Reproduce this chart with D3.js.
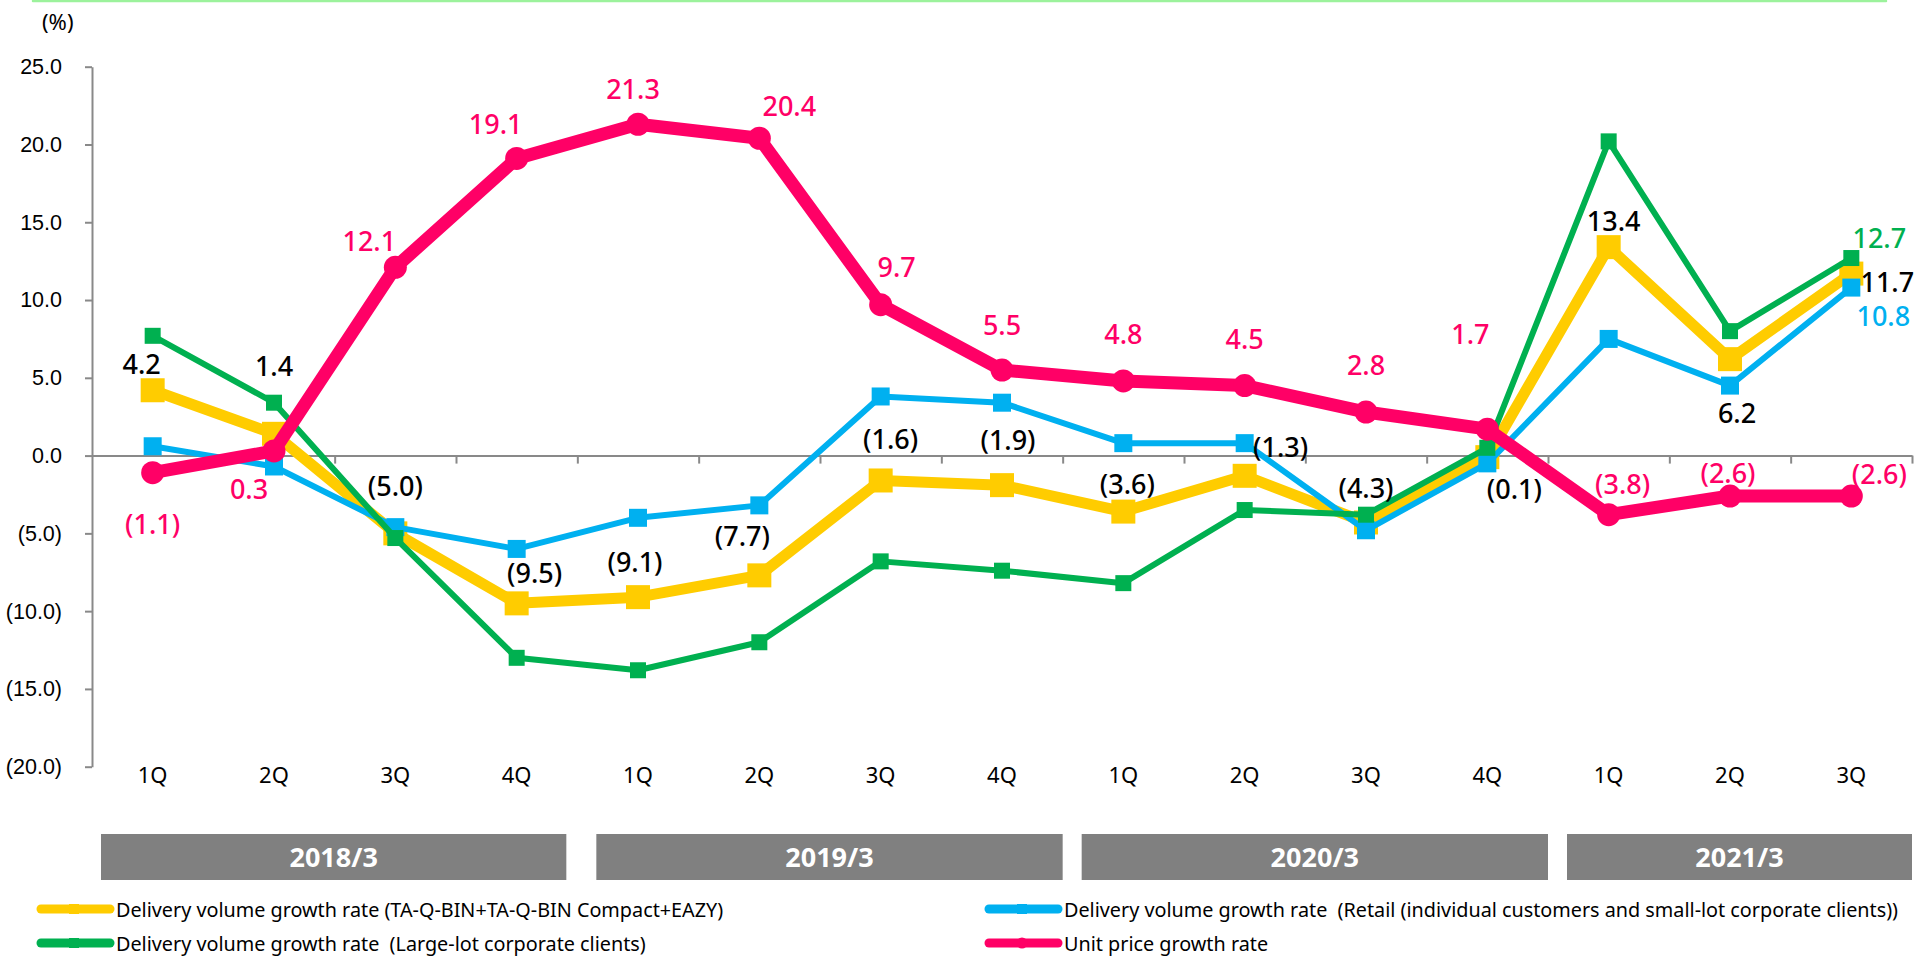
<!DOCTYPE html>
<html>
<head>
<meta charset="utf-8">
<script src="https://cdn.jsdelivr.net/npm/d3@7"></script>
<style>
  body { margin: 0; background: #fff; }
  svg { display: block; font-family: "Noto Sans", "Open Sans", sans-serif; }
  .legend text { white-space: pre; }
</style>
</head>
<body>
<div id="app"></div>
<script>
// quarters and fiscal years
const quarters = ["1Q", "2Q", "3Q", "4Q", "1Q", "2Q", "3Q", "4Q", "1Q", "2Q", "3Q", "4Q", "1Q", "2Q", "3Q"];
const fiscalYears = ["2018/3", "2019/3", "2020/3", "2021/3"];
const yearQuarterCount = [4, 4, 4, 3];
const yTicks = [25, 20, 15, 10, 5, 0, -5, -10, -15, -20];

// growth rates (%)
const totalVolume = [4.2, 1.4, -5.0, -9.5, -9.1, -7.7, -1.6, -1.9, -3.6, -1.3, -4.3, -0.1, 13.4, 6.2, 11.7];
const retailVolume = [0.6, -0.7, -4.6, -6.0, -4.0, -3.2, 3.8, 3.4, 0.8, 0.8, -4.8, -0.5, 7.5, 4.5, 10.8];
const largeLotVolume = [7.7, 3.4, -5.3, -13.0, -13.8, -12.0, -6.8, -7.4, -8.2, -3.5, -3.8, 0.5, 20.2, 8.0, 12.7];
const unitPrice = [-1.1, 0.3, 12.1, 19.1, 21.3, 20.4, 9.7, 5.5, 4.8, 4.5, 2.8, 1.7, -3.8, -2.6, -2.6];

const legendNames = [
  "Delivery volume growth rate (TA-Q-BIN+TA-Q-BIN Compact+EAZY)",
  "Delivery volume growth rate  (Retail (individual customers and small-lot corporate clients))",
  "Delivery volume growth rate  (Large-lot corporate clients)",
  "Unit price growth rate"
];

// label offsets from the point (layout only)
const totalLabelOffsets = [[-11, -27], [0, -68], [0, -48], [18, -31], [-3, -36], [-17, -40], [10, -42], [6, -46],
  [4, -28], [36, -29], [0, -35], [27, 31], [5, -27], [7, 53], [36, 8]];
const priceLabelOffsets = [[0, 51], [-25, 38], [-26, -27], [-21, -35], [-5, -36], [30, -33], [16, -38], [0, -46],
  [0, -47], [0, -47], [0, -48], [-17, -96], [14, -31], [-2, -24], [28, -23]];

const width = 1917, height = 958;
const plot = { left: 92, right: 1912, top: 66.7, bottom: 766.7 };

const fmt = (v) => (v < 0 ? `(${Math.abs(v).toFixed(1)})` : v.toFixed(1));

const xScale = d3.scaleBand().domain(d3.range(quarters.length)).range([plot.left, plot.right]);
const xEdge = d3.scaleLinear().domain([0, quarters.length]).range([plot.left, plot.right]);
const yScale = d3.scaleLinear().domain([-20, 25]).range([plot.bottom, plot.top]);
const cx = (i) => xScale(i) + xScale.bandwidth() / 2;

const svg = d3.select("#app").append("svg").attr("width", width).attr("height", height);

// thin green rule at the very top
svg.append("line")
  .attr("x1", 33).attr("x2", 1886).attr("y1", 1).attr("y2", 1)
  .attr("stroke", "#9cf29c").attr("stroke-width", 2.5).attr("stroke-linecap", "round");

svg.append("text").attr("x", 42).attr("y", 30).attr("font-size", 22).attr("fill", "#000").text("(%)");

// y axis
svg.append("g")
  .attr("transform", `translate(${plot.left},0)`)
  .call(d3.axisLeft(yScale).tickValues(yTicks).tickFormat(fmt).tickSize(7).tickPadding(23).tickSizeOuter(0))
  .call((g) => g.selectAll("line, path").attr("stroke", "#898989").attr("stroke-width", 2))
  .call((g) => g.selectAll("text").attr("font-size", 21.5).attr("fill", "#000").attr("font-family", null));

// zero line with ticks between quarters
svg.append("g")
  .attr("transform", `translate(0,${yScale(0)})`)
  .call(d3.axisBottom(xEdge).tickValues(d3.range(1, quarters.length + 1)).tickFormat("").tickSize(8).tickSizeOuter(0))
  .call((g) => g.selectAll("line, path").attr("stroke", "#898989").attr("stroke-width", 2));

// quarter labels
svg.append("g").selectAll("text").data(quarters).join("text")
  .attr("x", (d, i) => cx(i)).attr("y", 783)
  .attr("text-anchor", "middle").attr("font-size", 22).attr("fill", "#000")
  .text((d) => d);

// fiscal year boxes
let start = 0;
const yearBoxes = fiscalYears.map((name, k) => {
  const b = { name, from: start, to: start + yearQuarterCount[k] };
  start = b.to;
  return b;
});
const yearG = svg.append("g").selectAll("g").data(yearBoxes).join("g");
yearG.append("rect")
  .attr("x", (d, k) => xEdge(d.from) + (k === 0 ? 9 : 19))
  .attr("width", (d, k) => xEdge(d.to) - xEdge(d.from) - (k === 0 ? 20 : 19))
  .attr("y", 834).attr("height", 46)
  .attr("fill", "#808080");
yearG.append("text")
  .attr("x", (d, k) => (xEdge(d.from) + (k === 0 ? 9 : 19) + xEdge(d.to) - (k === 0 ? 11 : 0)) / 2)
  .attr("y", 867).attr("text-anchor", "middle")
  .attr("font-size", 27).attr("font-weight", "bold").attr("fill", "#fff")
  .text((d) => d.name);

// series
const series = [
  { values: totalVolume, color: "#FFCC00", width: 11, marker: "square", size: 24 },
  { values: retailVolume, color: "#00B0F0", width: 6, marker: "square", size: 18 },
  { values: largeLotVolume, color: "#00B050", width: 6, marker: "square", size: 16 },
  { values: unitPrice, color: "#FF0066", width: 13, marker: "circle", size: 23 }
];

const line = d3.line().x((d, i) => cx(i)).y((d) => yScale(d));

series.forEach((s) => {
  const g = svg.append("g");
  g.append("path").datum(s.values)
    .attr("d", line).attr("fill", "none")
    .attr("stroke", s.color).attr("stroke-width", s.width).attr("stroke-linejoin", "round");
  if (s.marker === "square") {
    g.selectAll("rect").data(s.values).join("rect")
      .attr("x", (d, i) => cx(i) - s.size / 2).attr("y", (d) => yScale(d) - s.size / 2)
      .attr("width", s.size).attr("height", s.size).attr("fill", s.color);
  } else {
    g.selectAll("circle").data(s.values).join("circle")
      .attr("cx", (d, i) => cx(i)).attr("cy", (d) => yScale(d))
      .attr("r", s.size / 2).attr("fill", s.color);
  }
});

// data labels
const labelG = svg.append("g").attr("font-size", 27).attr("font-weight", 500)
  .attr("text-anchor", "middle").attr("dominant-baseline", "central");
labelG.selectAll("text.total").data(totalVolume).join("text")
  .attr("class", "total")
  .attr("x", (d, i) => cx(i) + totalLabelOffsets[i][0])
  .attr("y", (d, i) => yScale(d) + totalLabelOffsets[i][1])
  .attr("fill", "#000").text(fmt);
labelG.selectAll("text.price").data(unitPrice).join("text")
  .attr("class", "price")
  .attr("x", (d, i) => cx(i) + priceLabelOffsets[i][0])
  .attr("y", (d, i) => yScale(d) + priceLabelOffsets[i][1])
  .attr("fill", "#FF0066").text(fmt);
const last = quarters.length - 1;
labelG.append("text")
  .attr("x", cx(last) + 28).attr("y", yScale(largeLotVolume[last]) - 21)
  .attr("fill", "#00B050").text(fmt(largeLotVolume[last]));
labelG.append("text")
  .attr("x", cx(last) + 32).attr("y", yScale(retailVolume[last]) + 28)
  .attr("fill", "#00B0F0").text(fmt(retailVolume[last]));

// legend
const legendPos = [[37, 909], [985, 909], [37, 943], [985, 943]];
const legendSeries = [series[0], series[1], series[2], series[3]];
const leg = svg.append("g").attr("class", "legend").selectAll("g").data(legendNames).join("g")
  .attr("transform", (d, i) => `translate(${legendPos[i][0]},${legendPos[i][1]})`);
leg.append("line")
  .attr("x1", 4).attr("x2", 73).attr("y1", 0).attr("y2", 0)
  .attr("stroke", (d, i) => legendSeries[i].color).attr("stroke-width", 9).attr("stroke-linecap", "round");
leg.filter((d, i) => i < 3).append("rect")
  .attr("x", 32).attr("y", -5).attr("width", 10).attr("height", 10)
  .attr("fill", (d, i) => legendSeries[i].color);
leg.filter((d, i) => i === 3).append("circle")
  .attr("cx", 37).attr("cy", 0).attr("r", 5.5).attr("fill", series[3].color);
leg.append("text")
  .attr("x", 79).attr("y", 0).attr("dominant-baseline", "central")
  .attr("font-size", 19.8).attr("fill", "#000")
  .text((d) => d);
</script>
</body>
</html>
